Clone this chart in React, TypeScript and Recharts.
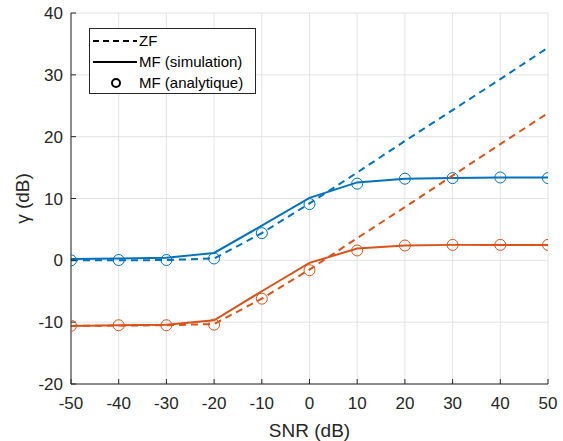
import React from 'react';
import { ComposedChart, Line, XAxis, YAxis, CartesianGrid, Legend, Label } from 'recharts';

// SNR points (dB)
const snr = [-50, -40, -30, -20, -10, 0, 10, 20, 30, 40, 50];

// blue group
const zfBlue = [0, 0, 0.05, 0.3, 4.4, 9.2, 14.2, 19.3, 24.3, 29.3, 34.4];
const mfBlue = [0.2, 0.3, 0.4, 1.2, 5.6, 10.1, 12.6, 13.2, 13.3, 13.4, 13.4];
const anBlue = [0, 0.05, 0.05, 0.3, 4.4, 9.1, 12.4, 13.2, 13.3, 13.4, 13.3];

// orange group
const zfOrange = [-10.6, -10.55, -10.5, -10.3, -6.2, -1.5, 3.6, 8.6, 13.7, 18.8, 23.8];
const mfOrange = [-10.6, -10.5, -10.4, -9.7, -5.0, -0.4, 1.9, 2.4, 2.5, 2.5, 2.5];
const anOrange = [-10.6, -10.5, -10.5, -10.4, -6.2, -1.6, 1.6, 2.4, 2.5, 2.5, 2.5];

const xTicks = [-50, -40, -30, -20, -10, 0, 10, 20, 30, 40, 50];
const yTicks = [-20, -10, 0, 10, 20, 30, 40];

const BLUE = '#0072BD';
const ORANGE = '#D95319';
const AXIS = '#262626';
const FONT = 'Arial, "Liberation Sans", sans-serif';

const data = snr.map((s, i) => ({
  snr: s,
  zf1: zfBlue[i],
  mf1: mfBlue[i],
  an1: anBlue[i],
  zf2: zfOrange[i],
  mf2: mfOrange[i],
  an2: anOrange[i],
}));

const tickStyle = { fontSize: 17, fill: AXIS, fontFamily: FONT };

const LegendBox = () => (
  <svg width={168} height={67} style={{ display: 'block' }}>
    <rect x={0.5} y={0.5} width={166} height={65} fill="#fff" stroke={AXIS} strokeWidth={1} />
    <line x1={4} x2={48} y1={13} y2={13} stroke="#000" strokeWidth={2} strokeDasharray="6 4" />
    <text x={50} y={18} fontSize={15} fontFamily={FONT} fill="#000">ZF</text>
    <line x1={4} x2={48} y1={34} y2={34} stroke="#000" strokeWidth={2} />
    <text x={50} y={39} fontSize={15} fontFamily={FONT} fill="#000">MF (simulation)</text>
    <circle cx={27} cy={55} r={4} fill="none" stroke="#000" strokeWidth={2} />
    <text x={50} y={60} fontSize={15} fontFamily={FONT} fill="#000">MF (analytique)</text>
  </svg>
);

const YLabel = (props: any) => {
  const vb = props.viewBox || { x: 0, y: 0, width: 0, height: 0 };
  const cx = vb.x + 22;
  const cy = vb.y + vb.height / 2;
  return (
    <text
      x={cx}
      y={cy}
      transform={`rotate(-90 ${cx} ${cy})`}
      textAnchor="middle"
      dominantBaseline="central"
      fontSize={19}
      fontFamily={FONT}
      fill={AXIS}
    >
      γ (dB)
    </text>
  );
};

export default function App() {
  return (
    <div style={{ position: 'absolute', left: 0, top: 0, background: '#fff' }}>
      <ComposedChart width={563} height={441} data={data} margin={{ top: 13, right: 15, bottom: 0, left: 0 }}>
        <CartesianGrid stroke="#e3e3e3" strokeWidth={1} />
        <XAxis
          dataKey="snr"
          type="number"
          domain={[-50, 50]}
          ticks={xTicks}
          height={57}
          tickSize={-5}
          tickMargin={18}
          stroke={AXIS}
          tick={tickStyle}
          allowDataOverflow
        >
          <Label value="SNR (dB)" position="insideBottom" offset={4} fontSize={19} fontFamily={FONT} fill={AXIS} />
        </XAxis>
        <XAxis
          xAxisId="top"
          orientation="top"
          type="number"
          domain={[-50, 50]}
          ticks={xTicks}
          height={0}
          tickSize={-5}
          tick={false}
          stroke={AXIS}
        />
        <YAxis
          type="number"
          domain={[-20, 40]}
          ticks={yTicks}
          width={71}
          tickSize={-5}
          tickMargin={13}
          stroke={AXIS}
          tick={tickStyle}
          allowDataOverflow
        >
          <Label content={<YLabel />} />
        </YAxis>
        <YAxis
          yAxisId="right"
          orientation="right"
          type="number"
          domain={[-20, 40]}
          ticks={yTicks}
          width={0}
          tickSize={-5}
          tick={false}
          stroke={AXIS}
        />
        <Legend
          layout="vertical"
          align="center"
          verticalAlign="middle"
          content={() => <LegendBox />}
          wrapperStyle={{ left: 89, top: 28, width: 168, height: 67 }}
        />

        <Line dataKey="zf1" stroke={BLUE} strokeWidth={2} strokeDasharray="7 5" dot={false} isAnimationActive={false} />
        <Line dataKey="mf1" stroke={BLUE} strokeWidth={2} dot={false} isAnimationActive={false} />
        <Line
          dataKey="an1"
          stroke="none"
          dot={{ r: 5.5, fill: 'none', stroke: BLUE, strokeWidth: 1 }}
          activeDot={false}
          isAnimationActive={false}
        />
        <Line dataKey="zf2" stroke={ORANGE} strokeWidth={2} strokeDasharray="7 5" dot={false} isAnimationActive={false} />
        <Line dataKey="mf2" stroke={ORANGE} strokeWidth={2} dot={false} isAnimationActive={false} />
        <Line
          dataKey="an2"
          stroke="none"
          dot={{ r: 5.5, fill: 'none', stroke: ORANGE, strokeWidth: 1 }}
          activeDot={false}
          isAnimationActive={false}
        />
      </ComposedChart>
    </div>
  );
}
